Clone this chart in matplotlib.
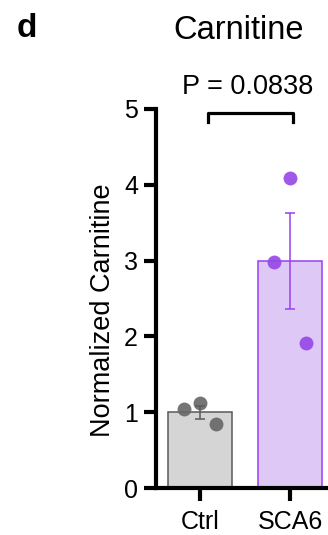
import matplotlib.pyplot as plt
import numpy as np

plt.rcParams['font.family'] = ['Liberation Sans', 'DejaVu Sans']

groups = ['Ctrl', 'SCA6']
ctrl_vals = [1.04, 1.12, 0.84]
sca6_vals = [4.09, 2.98, 1.91]
ctrl_x = [-0.18, 0.0, 0.18]
sca6_x = [0.0, -0.18, 0.18]
p_text = 'P = 0.0838'

bar_fill = ['#d5d5d5', '#dec9f6']
bar_edge = ['#5a5a5a', '#9a3ff0']
dot_col = ['#666666', '#9646e6']

fig = plt.figure(figsize=(3.28, 5.35), dpi=100)
ax = fig.add_axes([156 / 328, 1 - 488 / 535, 1 - 156 / 328, (488 - 109) / 535])

data = [np.array(ctrl_vals), np.array(sca6_vals)]
xs = [ctrl_x, sca6_x]
for i, vals in enumerate(data):
    m = vals.mean()
    sem = vals.std(ddof=1) / np.sqrt(len(vals))
    ax.bar(i, m, width=0.71, color=bar_fill[i], edgecolor=bar_edge[i], linewidth=1.1, zorder=1)
    ax.scatter(np.array(xs[i]) + i, vals, s=100, color=dot_col[i], alpha=0.9, linewidths=0, zorder=2)
    ax.errorbar(i, m, yerr=sem, color=bar_edge[i], elinewidth=1.1, capsize=3.5, capthick=1.1, zorder=3)

ax.set_xlim(-0.49, 1.42)
ax.set_ylim(0, 5)
ax.set_yticks([0, 1, 2, 3, 4, 5])
ax.set_xticks([0, 1])
ax.set_xticklabels(groups)
ax.spines['top'].set_visible(False)
ax.spines['right'].set_visible(False)
for s in ['left', 'bottom']:
    ax.spines[s].set_linewidth(3)
ax.tick_params(axis='both', width=3, length=9, labelsize=18)
ax.tick_params(axis='x', pad=7)
ax.tick_params(axis='y', pad=4)
ax.set_ylabel('Normalized Carnitine', fontsize=19.5)
ax.yaxis.set_label_coords(-0.235, 0.47)

# significance bracket
ax.plot([0.09, 0.09, 1.03, 1.03], [4.83, 4.95, 4.95, 4.83], color='black', lw=2.3, clip_on=False)
ax.text(0.53, 5.2, p_text, ha='center', va='baseline', fontsize=19.5, clip_on=False)

fig.text(239 / 328, 1 - 39 / 535, 'Carnitine', ha='center', va='baseline', fontsize=23.5)
fig.text(17 / 328, 1 - 37 / 535, 'd', ha='left', va='baseline', fontsize=24, fontweight='bold')

fig.savefig('out.png', dpi=100)
